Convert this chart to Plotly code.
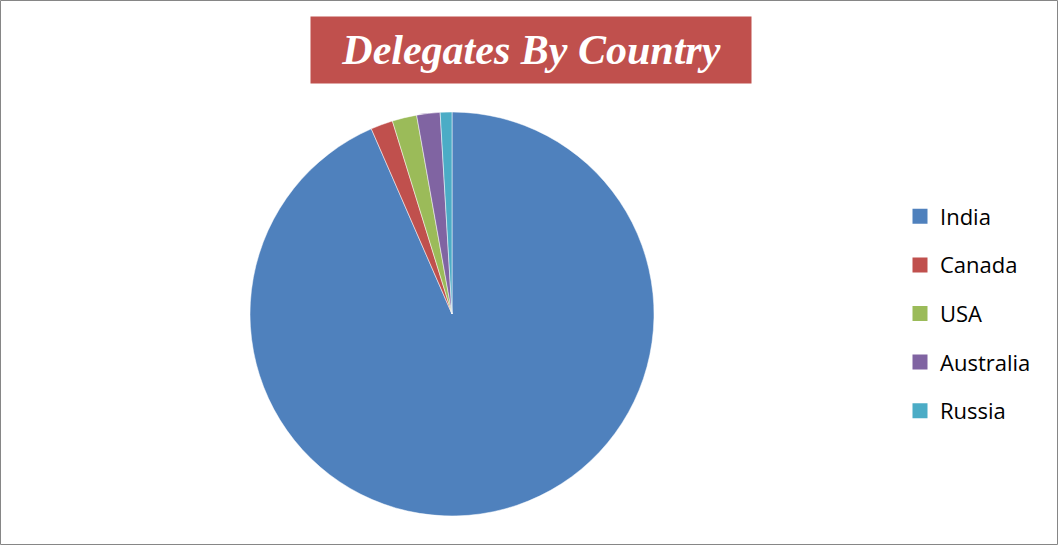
import plotly.graph_objects as go

countries = ["India", "Canada", "USA", "Australia", "Russia"]
delegates = [1000, 19, 21, 20, 10]
colors = ["#4F81BD", "#C0504D", "#9BBB59", "#8064A2", "#4BACC6"]
title_text = "Delegates By Country"

W, H = 1059, 546

fig = go.Figure()
fig.add_trace(go.Pie(
    labels=countries, values=delegates,
    marker=dict(colors=colors, line=dict(color="white", width=0.5)),
    sort=False, direction="clockwise", rotation=0,
    textinfo="none", showlegend=False,
    domain=dict(x=[250 / W, 654 / W], y=[1 - 516 / H, 1 - 112 / H]),
))
# legend entries (one group each so the spacing can be controlled)
for name, col in zip(countries, colors):
    fig.add_trace(go.Scatter(
        x=[None], y=[None], mode="markers", name=name, legendgroup=name,
        marker=dict(symbol="square", size=15, color=col),
    ))

fig.update_layout(
    width=W, height=H,
    margin=dict(l=0, r=0, t=0, b=0),
    paper_bgcolor="white", plot_bgcolor="white",
    xaxis=dict(visible=False), yaxis=dict(visible=False),
    legend=dict(
        x=900 / W, xanchor="left", y=1 - 313.5 / H, yanchor="middle",
        font=dict(family="Open Sans", size=22, color="#000000"),
        tracegroupgap=17, itemclick=False, itemdoubleclick=False,
    ),
    annotations=[dict(
        text="<b><i>" + title_text + "</i></b>",
        xref="paper", yref="paper", x=531 / W, y=1 - 50 / H,
        xanchor="center", yanchor="middle", showarrow=False,
        bgcolor="#C0504D", width=436, height=62, borderpad=2,
        font=dict(family="Liberation Serif", size=42, color="white"),
    )],
    shapes=[dict(
        type="rect", xref="paper", yref="paper",
        x0=0.5 / W, x1=1 - 1.5 / W, y0=1.5 / H, y1=1 - 0.5 / H,
        line=dict(color="#868686", width=1), fillcolor="rgba(0,0,0,0)",
    )],
)

fig.write_html("out.html", config={"displayModeBar": False},
               post_script="document.body.style.margin='0';")
